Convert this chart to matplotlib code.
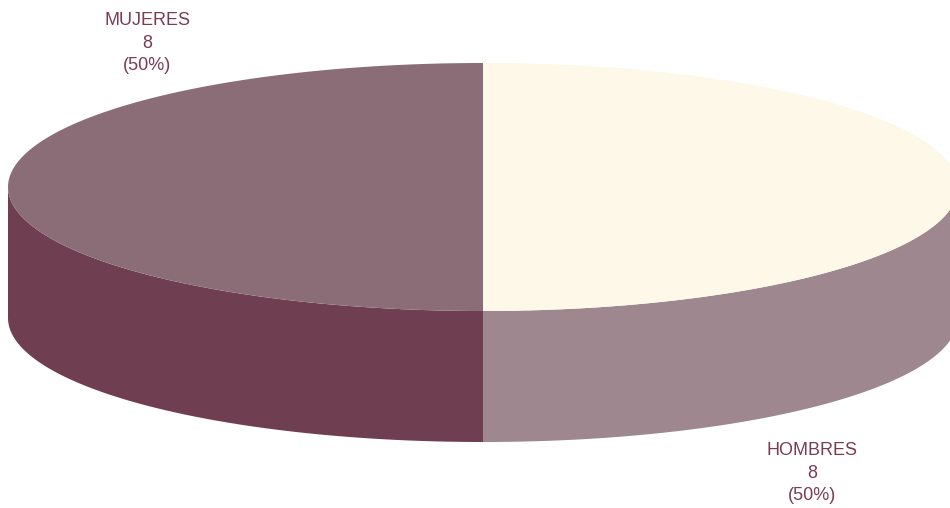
import numpy as np
import matplotlib.pyplot as plt
from matplotlib.patches import Polygon

labels = ["MUJERES", "HOMBRES"]
values = [8, 8]
top_colors = ["#8a6d77", "#fdf8e7"]
side_colors = ["#6f3f51", "#9e878f"]
text_color = "#7a3b55"

# pie geometry in pixel space
cx, cy = 483, 187
rx, ry = 475, 124
depth = 131

fig = plt.figure(figsize=(9.5, 5.08), dpi=100)
ax = fig.add_axes([0, 0, 1, 1])
ax.set_xlim(0, 950)
ax.set_ylim(508, 0)
ax.axis("off")

total = sum(values)
# start at 90 deg (top) and go counter-clockwise
start = 90.0
wedges = []
for v in values:
    span = 360.0 * v / total
    wedges.append((start, start + span))
    start += span


def pt(theta, dy=0):
    t = np.radians(theta)
    return cx + rx * np.cos(t), cy - ry * np.sin(t) + dy


# sides: only the front part (180..360 deg) is visible
for (a0, a1), col in zip(wedges, side_colors):
    for lo, hi in [(a0, a1), (a0 - 360, a1 - 360)]:
        s0, s1 = max(lo, 180), min(hi, 360)
        if s1 <= s0:
            continue
        th = np.linspace(s0, s1, 100)
        xs, ys = pt(th)
        xb, yb = pt(th[::-1], depth)
        poly = np.column_stack([np.r_[xs, xb], np.r_[ys, yb]])
        ax.add_patch(Polygon(poly, closed=True, facecolor=col, edgecolor="none"))

# top faces
for (a0, a1), col in zip(wedges, top_colors):
    th = np.linspace(a0, a1, 200)
    xs, ys = pt(th)
    poly = np.column_stack([np.r_[cx, xs], np.r_[cy, ys]])
    ax.add_patch(Polygon(poly, closed=True, facecolor=col, edgecolor="none"))

label_pos = [(147, 43), (812, 473)]
for lab, v, (lx, ly) in zip(labels, values, label_pos):
    ax.text(lx, ly, f"{lab}\n{v}\n({100 * v / total:.0f}%)", ha="center", va="center",
            fontsize=13, color=text_color, family="Liberation Sans", linespacing=1.45)

fig.savefig("out.png", dpi=100)
